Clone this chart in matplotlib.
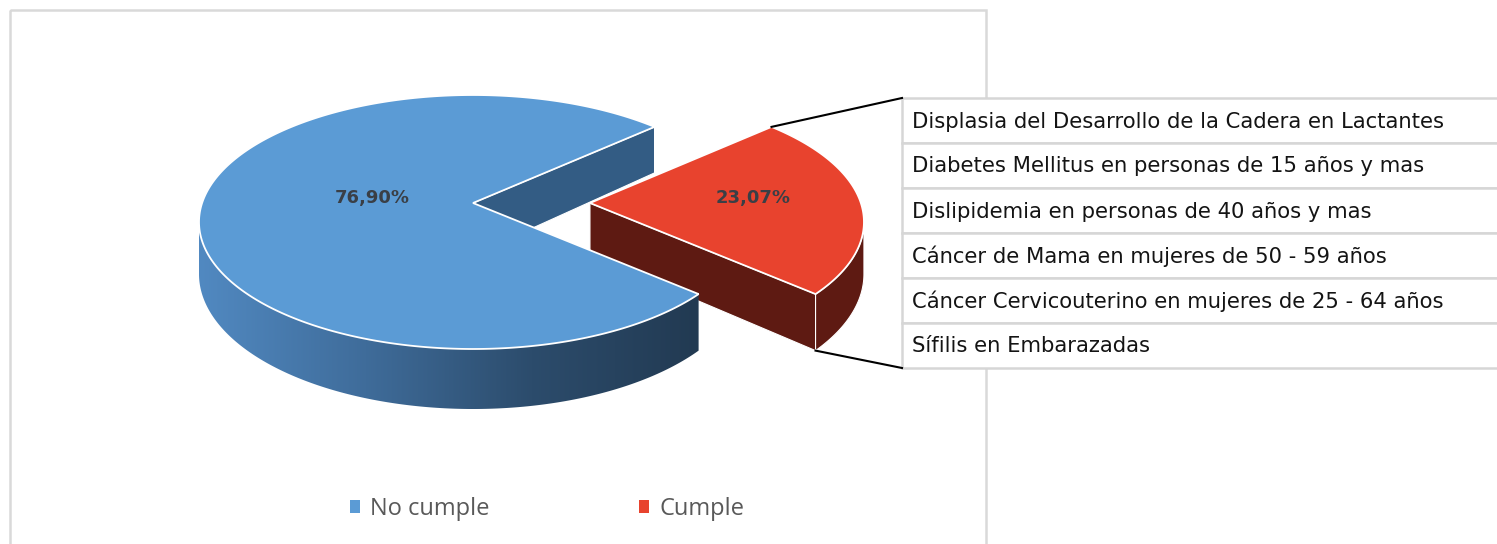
import numpy as np
import matplotlib.pyplot as plt
from matplotlib.patches import Polygon, Rectangle, Patch
from matplotlib.colors import LinearSegmentedColormap

# datos del grafico
categorias = ["No cumple", "Cumple"]
valores = [76.90, 23.07]
etiquetas = ["76,90%", "23,07%"]
programas = [
    "Displasia del Desarrollo de la Cadera en Lactantes",
    "Diabetes Mellitus en personas de 15 años y mas",
    "Dislipidemia en personas de 40 años y mas",
    "Cáncer de Mama en mujeres de 50 - 59 años",
    "Cáncer Cervicouterino en mujeres de 25 - 64 años",
    "Sífilis en Embarazadas",
]

col_top = ["#5B9BD5", "#E8432E"]
col_corte = ["#335C84", "#5E1A12"]
col_lado = ["#4C80B6", "#5E1A12"]

# geometria del pastel 3D (en pixeles del lienzo)
cx, cy = 473, 222
a, b = 274, 127
lift = 19
start = 48.5
explode = [0.0, 0.43]
lbl_r = [0.37, 0.60]


def depth(t):
    return 52 - 8 * np.sin(np.radians(t))


def rim(t, c, bottom=False):
    t = np.asarray(t, dtype=float)
    x = c[0] + a * np.cos(np.radians(t))
    y = c[1] - b * np.sin(np.radians(t))
    if bottom:
        y = y + depth(t)
    return x, y


fig = plt.figure(figsize=(14.97, 5.44), dpi=100)
ax = fig.add_axes([0, 0, 1, 1])
ax.set_xlim(0, 1497)
ax.set_ylim(544, 0)
ax.axis("off")

# marco del area del grafico
ax.add_patch(Rectangle((10, 10), 976, 560, fill=False, ec="#D9D9D9", lw=1.8, zorder=0))

total = sum(valores)
angs = [start]
for v in valores:
    angs.append(angs[-1] + 360 * v / total)

# zorder: cara de corte del azul al fondo, luego la rebanada roja, luego azul
z_base = [[1, 6, 7], [2, 3, 4]]
geo = []
for i, v in enumerate(valores):
    t0, t1 = angs[i], angs[i + 1]
    mid = (t0 + t1) / 2
    # la rebanada separada se desplaza en horizontal
    c = (cx + explode[i] * a * np.cos(np.radians(mid)), cy)
    apex = (c[0], c[1] - lift)
    geo.append((t0, t1, mid, c, apex))
    zc, zw, zt = z_base[i]

    # caras de corte visibles
    for t, normal in [(t0, t0 - 90), (t1, t1 + 90)]:
        if np.sin(np.radians(normal)) < 0:
            rx, ry = rim(t, c)
            bx, by = rim(t, c, bottom=True)
            pts = [apex, (rx, ry), (bx, by), (apex[0], apex[1] + depth(0))]
            ax.add_patch(Polygon(pts, closed=True, fc=col_corte[i], ec="white",
                                 lw=0.8, zorder=zc))

    # pared exterior visible (mitad frontal)
    th = np.linspace(t0, t1, 600)
    th = th[np.sin(np.radians(th)) < 0]
    if len(th) > 1:
        tx, ty = rim(th, c)
        bx, by = rim(th, c, bottom=True)
        pts = np.column_stack([np.concatenate([tx, bx[::-1]]),
                               np.concatenate([ty, by[::-1]])])
        if i == 0:
            wall = Polygon(pts, closed=True, fc="none", ec="none", zorder=zw)
            ax.add_patch(wall)
            cmap = LinearSegmentedColormap.from_list(
                "lado", ["#5189C1", "#3F6C9A", "#2C4C6C", "#223A52"])
            grad = np.linspace(0, 1, 256).reshape(1, -1)
            im = ax.imshow(grad, cmap=cmap, aspect="auto",
                           extent=[tx.min(), tx.max(), by.max() + 2, ty.min() - 2],
                           zorder=zw)
            im.set_clip_path(wall)
            ax.set_xlim(0, 1497)
            ax.set_ylim(544, 0)
        else:
            ax.add_patch(Polygon(pts, closed=True, fc=col_lado[i], ec="white",
                                 lw=0.8, zorder=zw))

    # cara superior
    th = np.linspace(t0, t1, 600)
    tx, ty = rim(th, c)
    pts = np.vstack([[apex], np.column_stack([tx, ty])])
    ax.add_patch(Polygon(pts, closed=True, fc=col_top[i], ec="white", lw=1.3,
                         zorder=zt))

    # etiqueta de valor
    lx = apex[0] + lbl_r[i] * a * np.cos(np.radians(mid))
    ly = apex[1] - 5
    ax.text(lx, ly, etiquetas[i], ha="center", va="center", fontsize=13,
            fontweight="bold", family="DejaVu Sans", color="#3A3F46", zorder=10)

# tabla de programas
tx0, row_h, ty0 = 902, 45, 98
for k, p in enumerate(programas):
    y = ty0 + k * row_h
    ax.add_patch(Rectangle((tx0, y), 620, row_h, fc="white", ec="#D6D6D6",
                           lw=1.8, zorder=8, clip_on=False))
    ax.text(tx0 + 10, y + row_h / 2 + 1, p, ha="left", va="center",
            fontsize=15.2, family="DejaVu Sans", color="#141414", zorder=9)

# lineas de conexion desde la rebanada "Cumple"
t0, t1, mid, c, apex = geo[1]
px, py = rim(t1, c)
ax.plot([px, tx0], [py, ty0], color="black", lw=1.5, zorder=9)
px, py = rim(t0, c, bottom=True)
ax.plot([px, tx0], [py, ty0 + row_h * len(programas)], color="black", lw=1.5,
        zorder=9)

# leyenda
handles = [Patch(fc=col_top[i], ec="none") for i in range(len(categorias))]
leg = ax.legend(handles, categorias, loc="center",
                bbox_to_anchor=(547 / 1497, 1 - 509 / 544),
                ncol=2, frameon=False, handlelength=0.42, handleheight=0.42,
                handletextpad=0.45, columnspacing=6.3,
                prop={"family": "Open Sans", "size": 17})
for t in leg.get_texts():
    t.set_color("#595959")

fig.savefig("out.png", dpi=100)
